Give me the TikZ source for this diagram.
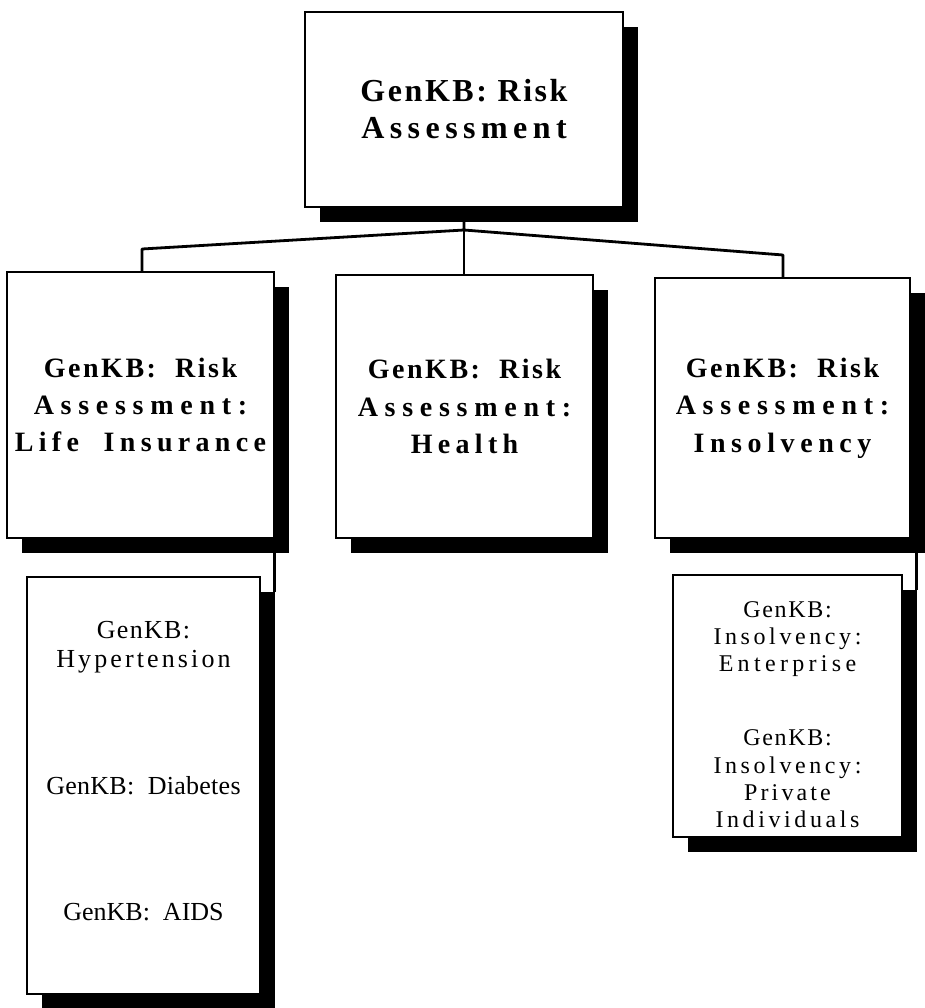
\documentclass[tikz,border=0pt]{standalone}
\usepackage{fontspec}
\setmainfont{Liberation Serif}
\usetikzlibrary{shadows,backgrounds,calc}

% letter-spaced run of text
\newcommand\spc[2]{{\addfontfeature{LetterSpace=#1}#2}}

\tikzset{
  frame/.style={draw, line width=2.1pt, fill=white, inner sep=0pt, outer sep=0pt,
    general shadow={fill=black, shadow xshift=11pt, shadow yshift=-11pt}},
  link/.style={line width=2.1pt, line join=round},
  headtext/.style={font=\bfseries\fontsize{24}{27.75}\selectfont, align=center},
  midtext/.style={font=\bfseries\fontsize{21}{28}\selectfont, align=center},
  lowtext/.style={font=\fontsize{19.5}{22}\selectfont, align=center},
  rtext/.style={font=\fontsize{18}{20.5}\selectfont, align=center},
}

\begin{document}
\begin{tikzpicture}[x=0.75pt, y=-0.75pt]
\useasboundingbox (0,0) rectangle (925,1008);

% top level
\node[frame, headtext, minimum width=238.5pt, minimum height=146.25pt] (root) at (464,109.5)
  {\spc{8}{GenKB: Risk}\\\spc{17}{Assessment}};

% second level
\node[frame, midtext, minimum width=200.25pt, minimum height=199.5pt] (life) at (140.5,405)
  {\spc{9}{GenKB:\ \ Risk}\\\spc{24}{Assessment:}\\\spc{19}{Life\ \ Insurance}};
\node[frame, midtext, minimum width=192.75pt, minimum height=197.25pt] (health) at (464.5,406.5)
  {\spc{9}{GenKB:\ \ Risk}\\\spc{24}{Assessment:}\\\spc{19}{Health}};
\node[frame, midtext, minimum width=191.25pt, minimum height=195pt] (insol) at (782.5,408)
  {\spc{9}{GenKB:\ \ Risk}\\\spc{24}{Assessment:}\\\spc{20}{Insolvency}};

% third level, left
\node[frame, minimum width=174.75pt, minimum height=312.75pt] (lowl) at (143.5,785.5) {};
\node[lowtext] (hyp) at (143.5,647) {\spc{5}{GenKB:}\\\spc{12}{Hypertension}};
\node[lowtext] (dia) at (143.5,786) {\spc{1}{GenKB:\ \ Diabetes}};
\node[lowtext] (aids) at (143.5,912) {\spc{0}{GenKB:\ \ AIDS}};

% third level, right
\node[frame, minimum width=171.75pt, minimum height=196.5pt] (lowr) at (787.5,706) {};
\node[rtext] (ent) at (787.5,639) {\spc{7}{GenKB:}\\\spc{15}{Insolvency:}\\\spc{18}{Enterprise}};
\node[rtext] (priv) at (787.5,779) {\spc{7}{GenKB:}\\\spc{15}{Insolvency:}\\\spc{13}{Private}\\\spc{15}{Individuals}};

% connectors
\coordinate (J) at (464,230);
\coordinate (jl) at (142,249);
\coordinate (jr) at (783,255);
\coordinate (ltop) at ([shift={(11pt,-11pt)}]lowl.north east);
\coordinate (rtop) at ([shift={(11pt,-11pt)}]lowr.north east);
\begin{scope}[on background layer]
  \draw[link] (root.south) -- (J) -- (jl) -- (jl |- life.north);
  \draw[link] (J) -- (J |- health.north);
  \draw[link] (J) -- (jr) -- (jr |- insol.north);
  \draw[link] (ltop) -- (ltop |- life.south);
  \draw[link] (rtop) -- (rtop |- insol.south);
\end{scope}
\end{tikzpicture}
\end{document}
